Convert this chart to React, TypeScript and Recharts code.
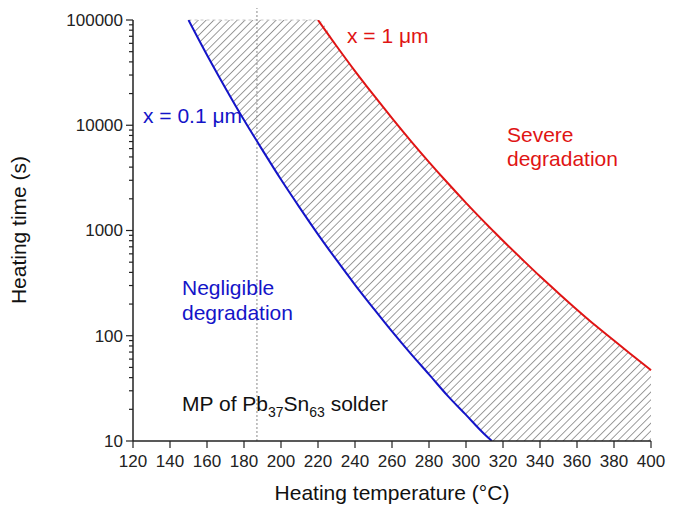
import React from 'react'
import {
    ComposedChart,
    Line,
    Area,
    XAxis,
    YAxis,
    ReferenceLine
} from 'recharts'

// heating temperature (°C) vs. heating time (s)
const blueTemps = [150, 160, 170, 180, 190, 200, 210, 220, 230, 240, 250, 260, 270, 280, 290, 300, 310, 314]
const blueTimes = [100000, 46500, 22500, 11200, 5800, 3050, 1660, 920, 525, 305, 182, 110, 68, 43, 27, 17.7, 11.6, 10]

const redTemps = [220, 230, 240, 250, 260, 270, 280, 290, 300, 310, 314, 320, 330, 340, 350, 360, 370, 380, 390, 400]
const redTimes = [100000, 56600, 32700, 19400, 11700, 7160, 4470, 2840, 1830, 1200, 1020, 800, 540, 367, 254, 177, 125, 90, 65, 47]

const xTicks = [120, 140, 160, 180, 200, 220, 240, 260, 280, 300, 320, 340, 360, 380, 400]
const yMajor = [10, 100, 1000, 10000, 100000]
const yMinor = [2, 3, 4, 5, 6, 7, 8, 9]

const meltingPoint = 187
const yMin = 10
const yMax = 100000

const allTemps = Array.from(new Set([...blueTemps, ...redTemps])).sort((a, b) => a - b)

const rows = allTemps.map(t => {
    const bi = blueTemps.indexOf(t)
    const ri = redTemps.indexOf(t)
    const blue = bi >= 0 ? blueTimes[bi] : undefined
    const red = ri >= 0 ? redTimes[ri] : undefined
    const low = blue !== undefined ? Math.max(blue, yMin) : yMin
    const high = red !== undefined ? Math.min(red, yMax) : yMax
    return { t, blue, red, band: [low, high] }
})

const yTicks: number[] = []
yMajor.forEach((m, i) => {
    yTicks.push(m)
    if (i < yMajor.length - 1) yMinor.forEach(k => yTicks.push(m * k))
})

const FONT = '"Liberation Sans", Arial, sans-serif'
const AXIS = '#222'
const BLUE = '#1414c8'
const RED = '#e01414'

function YTick(props: any) {
    const { x, y, payload } = props
    const major = yMajor.includes(payload.value)
    return (
        <g>
            <line x1={x - (major ? 7 : 4)} x2={x} y1={y} y2={y} stroke={AXIS} strokeWidth={1.2} />
            {major && (
                <text x={x - 10} y={y} dy="0.35em" textAnchor="end" fontSize={17} fill={AXIS} fontFamily={FONT}>
                    {payload.value}
                </text>
            )}
        </g>
    )
}

export default function App() {
    return (
        <div style={{ position: 'absolute', left: 0, top: 0, width: 678, height: 511, background: '#fff', fontFamily: FONT }}>
            <ComposedChart
                width={678}
                height={511}
                data={rows}
                margin={{ top: 20, right: 27, left: 0, bottom: 0 }}
            >
                <defs>
                    <pattern id="hatch" patternUnits="userSpaceOnUse" width={5.5} height={5.5} patternTransform="rotate(45)">
                        <line x1={0} y1={0} x2={0} y2={5.5} stroke="#5a5a5a" strokeWidth={1.2} />
                    </pattern>
                </defs>
                <XAxis
                    type="number"
                    dataKey="t"
                    domain={[120, 400]}
                    ticks={xTicks}
                    interval={0}
                    height={70}
                    tickSize={7}
                    tickMargin={7}
                    axisLine={{ stroke: AXIS, strokeWidth: 1.5 }}
                    tickLine={{ stroke: AXIS, strokeWidth: 1.2 }}
                    tick={{ fontSize: 17, fill: AXIS, fontFamily: FONT }}
                />
                <YAxis
                    scale="log"
                    domain={[yMin, yMax]}
                    allowDataOverflow
                    ticks={yTicks}
                    interval={0}
                    width={133}
                    tickLine={false}
                    tickSize={0}
                    tickMargin={0}
                    axisLine={{ stroke: AXIS, strokeWidth: 1.5 }}
                    tick={<YTick />}
                />
                <Area
                    dataKey="band"
                    type="monotone"
                    stroke="none"
                    fill="url(#hatch)"
                    fillOpacity={1}
                    isAnimationActive={false}
                />
                <ReferenceLine
                    segment={[{ x: 150, y: yMax }, { x: 220, y: yMax }]}
                    stroke="#c8c8c8"
                    strokeDasharray="3 3"
                />
                <ReferenceLine
                    segment={[{ x: meltingPoint, y: yMin }, { x: meltingPoint, y: 130000 }]}
                    stroke="#8a8a8a"
                    strokeDasharray="2 2"
                    ifOverflow="visible"
                />
                <Line dataKey="blue" type="monotone" stroke={BLUE} strokeWidth={2} dot={false} isAnimationActive={false} />
                <Line dataKey="red" type="monotone" stroke={RED} strokeWidth={2} dot={false} isAnimationActive={false} />
            </ComposedChart>

            <svg width={678} height={511} style={{ position: 'absolute', left: 0, top: 0, pointerEvents: 'none' }} fontFamily={FONT}>
                <text x={347} y={43} fontSize={21} fill={RED}>x = 1 μm</text>
                <text x={507} y={142} fontSize={21} fill={RED}>Severe</text>
                <text x={507} y={166} fontSize={21} fill={RED}>degradation</text>
                <text x={143} y={123} fontSize={21} fill={BLUE}>x = 0.1 μm</text>
                <text x={182} y={295} fontSize={21} fill={BLUE}>Negligible</text>
                <text x={182} y={320} fontSize={21} fill={BLUE}>degradation</text>
                <text x={182} y={411} fontSize={21} fill="#111">
                    MP of Pb<tspan fontSize={14} dy={6}>37</tspan><tspan dy={-6}>Sn</tspan><tspan fontSize={14} dy={6}>63</tspan><tspan dy={-6}> solder</tspan>
                </text>
                <text x={392} y={500} fontSize={21} fill="#111" textAnchor="middle">Heating temperature (°C)</text>
                <text transform="translate(26,230) rotate(-90)" fontSize={21} fill="#111" textAnchor="middle">Heating time (s)</text>
            </svg>
        </div>
    )
}
